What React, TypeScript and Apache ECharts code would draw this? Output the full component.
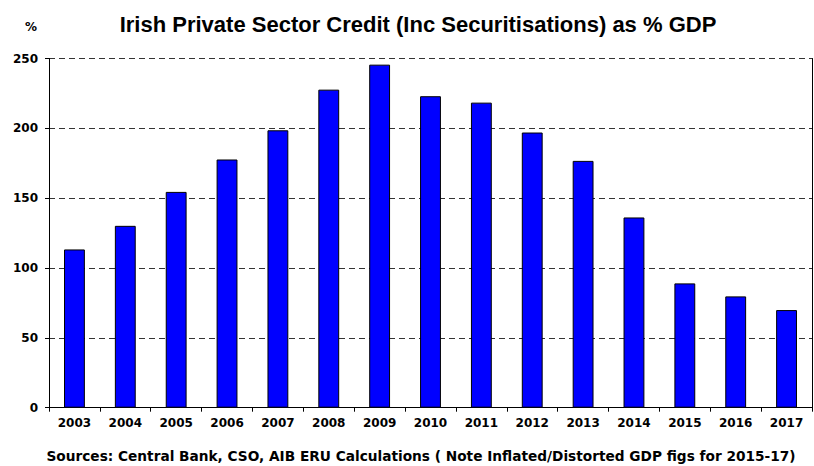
import React, { useEffect, useRef } from "react";
import * as echarts from "echarts";

const years = ["2003","2004","2005","2006","2007","2008","2009","2010","2011","2012","2013","2014","2015","2016","2017"];
const creditPctGdp = [113.3, 130.2, 154.5, 177.7, 198.6, 227.7, 245.6, 223, 218.4, 197, 176.7, 136.2, 89, 79.7, 69.9];
const titleText = "Irish Private Sector Credit (Inc Securitisations) as % GDP";
const unitText = "%";
const sourceText = "Sources: Central Bank, CSO, AIB ERU Calculations ( Note Inflated/Distorted GDP figs for 2015-17)";

const FONT = "'Liberation Sans', Arial, sans-serif";
const WIDE = "'DejaVu Sans', 'Liberation Sans', sans-serif";

export default function App() {
  const ref = useRef<HTMLDivElement>(null);
  useEffect(() => {
    const chart = echarts.init(ref.current!, null, { renderer: "svg" });
    chart.setOption({
      animation: false,
      backgroundColor: "#ffffff",
      title: [
        {
          text: titleText,
          left: 413,
          top: 8,
          textAlign: "center",
          textStyle: { fontFamily: FONT, fontWeight: "bold", fontSize: 22, color: "#000" },
        },
        {
          text: sourceText,
          left: 416,
          top: 444,
          textAlign: "center",
          textStyle: { fontFamily: WIDE, fontWeight: "bold", fontSize: 13.7, color: "#000" },
        },
        {
          text: unitText,
          left: 20,
          top: 16,
          textStyle: { fontFamily: WIDE, fontWeight: "bold", fontSize: 12, color: "#000" },
        },
      ],
      grid: { left: 49, right: 2, top: 58.5, bottom: 58.3, containLabel: false },
      xAxis: {
        type: "category",
        data: years,
        axisLine: { show: true, lineStyle: { color: "#000", width: 1 } },
        axisTick: { show: true, alignWithLabel: false, length: 4, lineStyle: { color: "#000" } },
        axisLabel: { fontFamily: WIDE, fontWeight: "bold", fontSize: 12, color: "#000", margin: 9 },
      },
      yAxis: [
        {
          type: "value",
          min: 0,
          max: 250,
          interval: 50,
          axisLine: { show: true, lineStyle: { color: "#000", width: 1 } },
          axisTick: { show: true, length: 4, lineStyle: { color: "#000" } },
          axisLabel: { fontFamily: WIDE, fontWeight: "bold", fontSize: 12, color: "#000", margin: 11 },
          splitLine: { show: true, lineStyle: { color: "#333", type: [6, 4], width: 1 } },
        },
        {
          type: "value",
          position: "right",
          min: 0,
          max: 250,
          interval: 50,
          axisLine: { show: true, lineStyle: { color: "#000", width: 1 } },
          axisTick: { show: false },
          axisLabel: { show: false },
          splitLine: { show: false },
        },
      ],
      series: [
        {
          type: "bar",
          data: creditPctGdp,
          barWidth: "41%",
          itemStyle: { color: "#0000ff", borderColor: "#000", borderWidth: 1 },
        },
      ],
    });
    return () => chart.dispose();
  }, []);
  return <div ref={ref} style={{ width: 814, height: 466, position: "absolute", left: 0, top: 0 }} />;
}
